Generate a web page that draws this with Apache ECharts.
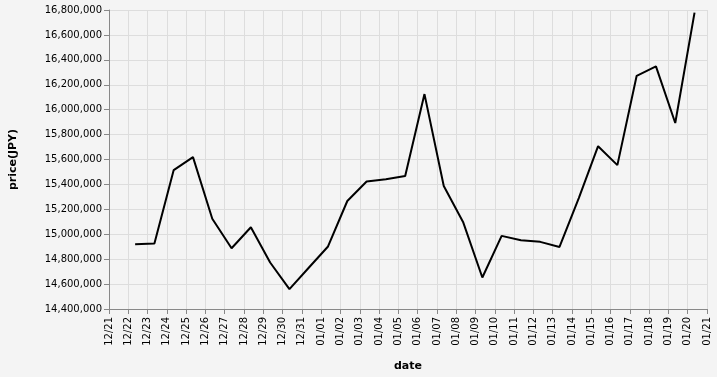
<!DOCTYPE html>
<html>
<head>
<meta charset="utf-8">
<script src="https://cdn.jsdelivr.net/npm/echarts@6/dist/echarts.min.js"></script>
<style>
html,body{margin:0;padding:0;background:#f4f4f4;}
#c{width:717px;height:377px;}
</style>
</head>
<body>
<div id="c"></div>
<script>
const dates = ['2021-12-22','2021-12-23','2021-12-24','2021-12-25','2021-12-26','2021-12-27','2021-12-28','2021-12-29','2021-12-30','2021-12-31',
  '2022-01-01','2022-01-02','2022-01-03','2022-01-04','2022-01-05','2022-01-06','2022-01-07','2022-01-08','2022-01-09','2022-01-10',
  '2022-01-11','2022-01-12','2022-01-13','2022-01-14','2022-01-15','2022-01-16','2022-01-17','2022-01-18','2022-01-19','2022-01-20'];
const priceTime = 'T08:30:00Z';
const prices = [14920000,14925000,15515000,15619000,15125000,14888000,15056000,14773000,14560000,14731000,
  14902000,15267000,15424000,15442000,15467000,16125000,15387000,15099000,14653000,14987000,
  14952000,14939000,14898000,15290000,15707000,15555000,16272000,16347000,15893000,16779000];
const xStart = '2021-12-21T00:00:00Z';
const xEnd = '2022-01-21T00:00:00Z';
const yMin = 14400000, yMax = 16800000, yStep = 200000;
const DAY = 86400000;

const seriesData = dates.map((d, i) => [Date.parse(d + priceTime), prices[i]]);
const pad = n => (n < 10 ? '0' : '') + n;

const chart = echarts.init(document.getElementById('c'), null, {renderer: 'canvas'});
chart.setOption({
  backgroundColor: '#f4f4f4',
  animation: false,
  grid: {left: 107, right: 10, top: 10, bottom: 67, containLabel: false},
  xAxis: {
    type: 'value',
    min: Date.parse(xStart),
    max: Date.parse(xEnd),
    interval: DAY,
    name: 'date',
    nameLocation: 'middle',
    nameGap: 52,
    nameTextStyle: {fontFamily: 'DejaVu Sans', fontSize: 11, fontWeight: 'bold', color: '#000'},
    axisLine: {show: true, onZero: false, lineStyle: {color: '#888', width: 1}},
    axisTick: {show: true, length: 5, lineStyle: {color: '#888'}},
    axisLabel: {
      rotate: 90, margin: 8, fontFamily: 'DejaVu Sans', fontSize: 10, color: '#000',
      formatter: v => { const d = new Date(v); return pad(d.getUTCMonth() + 1) + '/' + pad(d.getUTCDate()); },
      showMinLabel: true, showMaxLabel: true
    },
    splitLine: {show: true, lineStyle: {color: '#ddd', width: 1}}
  },
  yAxis: {
    type: 'value',
    min: yMin, max: yMax, interval: yStep,
    name: 'price(JPY)',
    nameLocation: 'middle',
    nameGap: 90,
    nameRotate: 90,
    nameTextStyle: {fontFamily: 'DejaVu Sans', fontSize: 11, fontWeight: 'bold', color: '#000'},
    axisLine: {show: true, lineStyle: {color: '#888', width: 1}},
    axisTick: {show: true, length: 5, lineStyle: {color: '#888'}},
    axisLabel: {
      margin: 7, fontFamily: 'DejaVu Sans', fontSize: 10, color: '#000',
      formatter: v => v.toLocaleString('en-US')
    },
    splitLine: {show: true, lineStyle: {color: '#ddd', width: 1}}
  },
  series: [{
    type: 'line',
    data: seriesData,
    showSymbol: false,
    symbol: 'none',
    lineStyle: {color: '#000', width: 2},
    itemStyle: {color: '#000'}
  }]
});
</script>
</body>
</html>
